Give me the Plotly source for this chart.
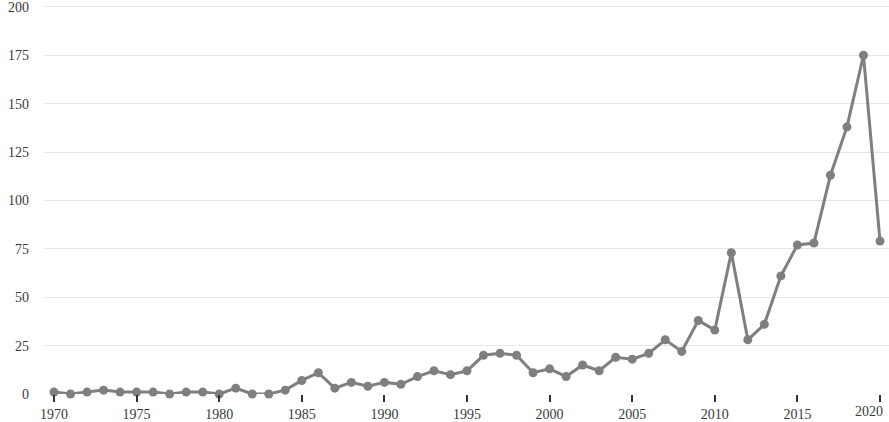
import plotly.graph_objects as go

years = list(range(1970, 2021))
counts = [1, 0, 1, 2, 1, 1, 1, 0, 1, 1, 0, 3, 0, 0, 2,
          7, 11, 3, 6, 4, 6, 5, 9, 12, 10, 12, 20, 21, 20, 11,
          13, 9, 15, 12, 19, 18, 21, 28, 22, 38, 33, 73, 28, 36, 61,
          77, 78, 113, 138, 175, 79]
x_ticks = [1970, 1975, 1980, 1985, 1990, 1995, 2000, 2005, 2010, 2015, 2020]
y_ticks = [0, 25, 50, 75, 100, 125, 150, 175, 200]

FONT = dict(family="Liberation Serif, serif", size=14, color="#3a3a3a")

fig = go.Figure()
fig.add_trace(go.Scatter(
    x=years, y=counts, mode="lines+markers",
    line=dict(color="#7f7f7f", width=3),
    marker=dict(color="#7f7f7f", size=9),
    cliponaxis=False, hoverinfo="x+y",
))

last_tick = x_ticks[-1]
fig.update_layout(
    width=889, height=422,
    margin=dict(l=44, r=0, t=2, b=27),
    plot_bgcolor="white", paper_bgcolor="white",
    showlegend=False,
    font=FONT,
    xaxis=dict(
        range=[1969.395, 2020.545],
        tickvals=x_ticks,
        ticktext=[str(v) if v != last_tick else "" for v in x_ticks],
        ticks="outside", ticklen=7, tickwidth=1.5, tickcolor="#333333",
        showgrid=False, zeroline=False, showline=False,
    ),
    yaxis=dict(
        range=[0, 202],
        tickvals=y_ticks,
        showgrid=True, gridcolor="#e6e6e6", gridwidth=1,
        zeroline=False, showline=False,
        ticks="", ticklabelstandoff=14, ticklabeloverflow="allow",
    ),
    annotations=[dict(
        x=last_tick, y=0, xref="x", yref="paper",
        text=str(last_tick), showarrow=False,
        xanchor="right", yanchor="top", xshift=5, yshift=-8,
        font=FONT,
    )],
)

fig.write_html("out.html", config={"displayModeBar": False},
               post_script="document.body.style.margin='0';document.body.style.overflow='hidden';")
